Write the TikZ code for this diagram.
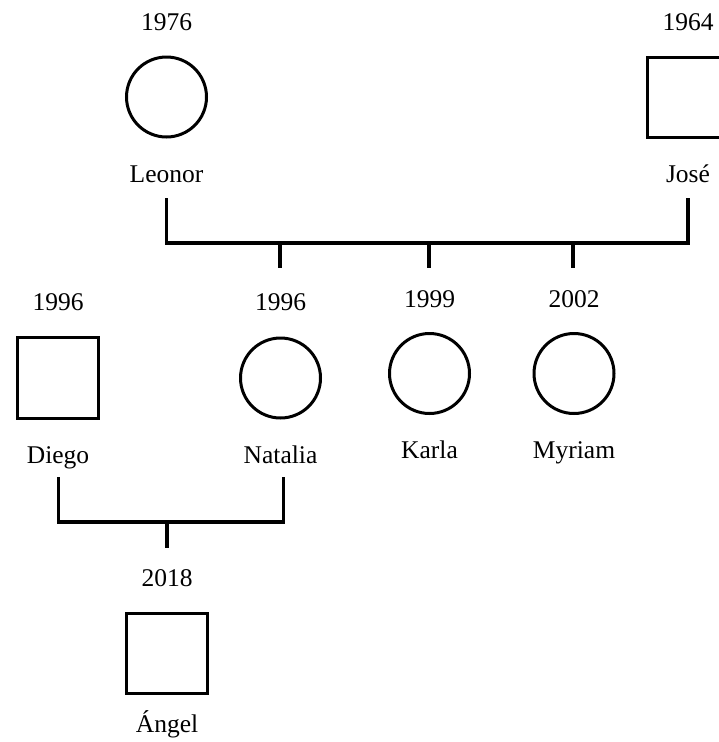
\documentclass[tikz,border=0pt]{standalone}
\usepackage{fontspec}
\setmainfont{Liberation Serif}
\begin{document}
\begin{tikzpicture}[x=1pt,y=-1pt,
  fem/.style={circle,draw,line width=3pt,minimum size=80pt,inner sep=0pt},
  mal/.style={rectangle,draw,line width=3.2pt,minimum size=80.5pt,inner sep=0pt},
  lbl/.style={anchor=base,inner sep=0pt,font=\fontsize{25.5}{28}\selectfont},
  link/.style={line width=3.2pt,line join=miter}]
\useasboundingbox (0,0) rectangle (719,742);
% generation 1
\node[fem] (leonor) at (166.5,97) {};
\node[lbl] (leonorY) at (166.5,30.5) {1976};
\node[lbl] (leonorN) at (166.5,182.5) {Leonor};
\node[mal] (jose) at (688,97.5) {};
\node[lbl] (joseY) at (688,30.5) {1964};
\node[lbl] (joseN) at (688,182.5) {José};
% generation 2
\node[mal] (diego) at (58,378) {};
\node[lbl] (diegoY) at (58,310) {1996};
\node[lbl] (diegoN) at (58,463) {Diego};
\node[fem] (natalia) at (280.5,378) {};
\node[lbl] (nataliaY) at (280.5,310) {1996};
\node[lbl] (nataliaN) at (280.5,463) {Natalia};
\node[fem] (karla) at (429.5,373.5) {};
\node[lbl] (karlaY) at (429.5,307) {1999};
\node[lbl] (karlaN) at (429.5,458) {Karla};
\node[fem] (myriam) at (574,373.5) {};
\node[lbl] (myriamY) at (574,307) {2002};
\node[lbl] (myriamN) at (574,458) {Myriam};
% generation 3
\node[mal] (angel) at (167,653.5) {};
\node[lbl] (angelY) at (167,586) {2018};
\node[lbl] (angelN) at (167,732) {Ángel};
% connector points
\coordinate (pL) at (166.5,198);
\coordinate (pJ) at (688,198);
\coordinate (bar1) at (427,243);
\coordinate (c1) at (280,243);
\coordinate (c1e) at (280,268);
\coordinate (c2) at (429,243);
\coordinate (c2e) at (429,268);
\coordinate (c3) at (573,243);
\coordinate (c3e) at (573,268);
\coordinate (pD) at (58.5,477);
\coordinate (pN) at (283.5,477);
\coordinate (bar2) at (167,522);
\coordinate (c4e) at (167,548);
% connectors
\draw[link] (pL) |- (bar1) -| (pJ);
\draw[link] (c1) -- (c1e);
\draw[link] (c2) -- (c2e);
\draw[link] (c3) -- (c3e);
\draw[link] (pD) |- (bar2) -| (pN);
\draw[link] (bar2) -- (c4e);
\end{tikzpicture}
\end{document}
